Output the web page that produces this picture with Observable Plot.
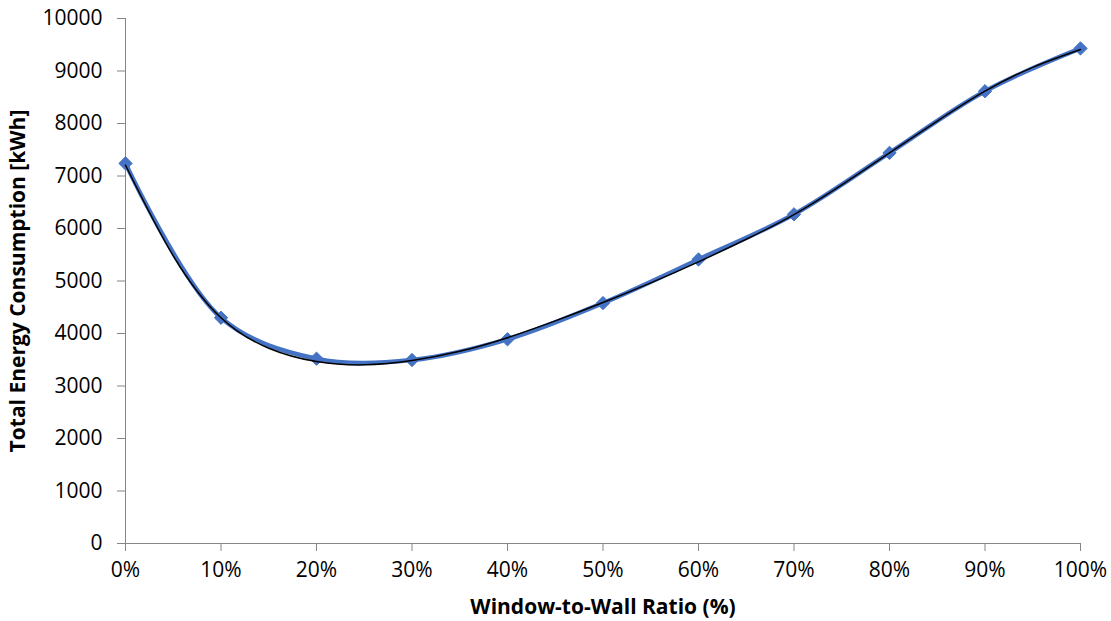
<!DOCTYPE html>
<html>
<head>
<meta charset="utf-8">
<script src="https://cdn.jsdelivr.net/npm/d3@7"></script>
<script src="https://cdn.jsdelivr.net/npm/@observablehq/plot@0.6"></script>
<style>
  html, body { margin: 0; padding: 0; background: #fff; }
  #chart { width: 1111px; height: 621px; }
</style>
</head>
<body>
<div id="chart"></div>
<script>
// Window-to-wall ratio (%) and total energy consumption (kWh)
const ratio = [0, 10, 20, 30, 40, 50, 60, 70, 80, 90, 100];
const energy = [7240, 4300, 3520, 3495, 3890, 4580, 5410, 6270, 7440, 8615, 9430];

// Black trendline, every 5%
const trendRatio = [0, 5, 10, 15, 20, 25, 30, 35, 40, 45, 50, 55, 60, 65, 70, 75, 80, 85, 90, 95, 100];
const trendEnergy = [7205, 5480, 4300, 3720, 3466, 3403, 3485, 3660, 3920, 4240, 4590, 4965, 5365, 5795, 6265, 6830, 7440, 8045, 8615, 9070, 9410];

const xTicks = [0, 10, 20, 30, 40, 50, 60, 70, 80, 90, 100];
const yTicks = [0, 1000, 2000, 3000, 4000, 5000, 6000, 7000, 8000, 9000, 10000];

const xTitle = "Window-to-Wall Ratio (%)";
const yTitle = "Total Energy Consumption [kWh]";

const data = ratio.map((r, i) => ({r, e: energy[i]}));
const trend = trendRatio.map((r, i) => ({r, e: trendEnergy[i]}));

const axisColor = "#868686";
const blue = "#4472C4";

const chart = Plot.plot({
  width: 1111,
  height: 621,
  marginLeft: 125,
  marginRight: 31,
  marginTop: 18,
  marginBottom: 78,
  style: {fontFamily: "'Open Sans', Lato, sans-serif", fontSize: "21px", color: "#000", background: "#fff"},
  x: {domain: [0, 100]},
  y: {domain: [0, 10000]},
  marks: [
    Plot.axisY({ticks: yTicks, tickSize: 8, tickPadding: 15, stroke: axisColor, fill: "#000", fontSize: 21, label: null, tickFormat: d => String(d)}),
    Plot.axisX({ticks: xTicks, tickSize: 8, tickPadding: 11, stroke: axisColor, fill: "#000", fontSize: 21, label: null, tickFormat: d => d + "%"}),
    Plot.ruleX([0], {stroke: axisColor, strokeWidth: 1}),
    Plot.ruleY([0], {stroke: axisColor, strokeWidth: 1}),
    Plot.line(data, {x: "r", y: "e", stroke: blue, strokeWidth: 4.5, curve: "catmull-rom"}),
    Plot.dot(data, {x: "r", y: "e", symbol: "diamond2", r: 6, fill: blue, stroke: blue, strokeWidth: 1}),
    Plot.line(trend, {x: "r", y: "e", stroke: "#000", strokeWidth: 1.5, curve: "natural"}),
    Plot.text([xTitle], {frameAnchor: "bottom", dy: 64, lineAnchor: "middle", text: d => d, fontWeight: "bold", fontSize: 21, fill: "#000"}),
    Plot.text([yTitle], {frameAnchor: "left", dx: -107, rotate: -90, textAnchor: "middle", lineAnchor: "middle", text: d => d, fontWeight: "bold", fontSize: 21, fill: "#000"})
  ]
});

document.getElementById("chart").appendChild(chart);
</script>
</body>
</html>
